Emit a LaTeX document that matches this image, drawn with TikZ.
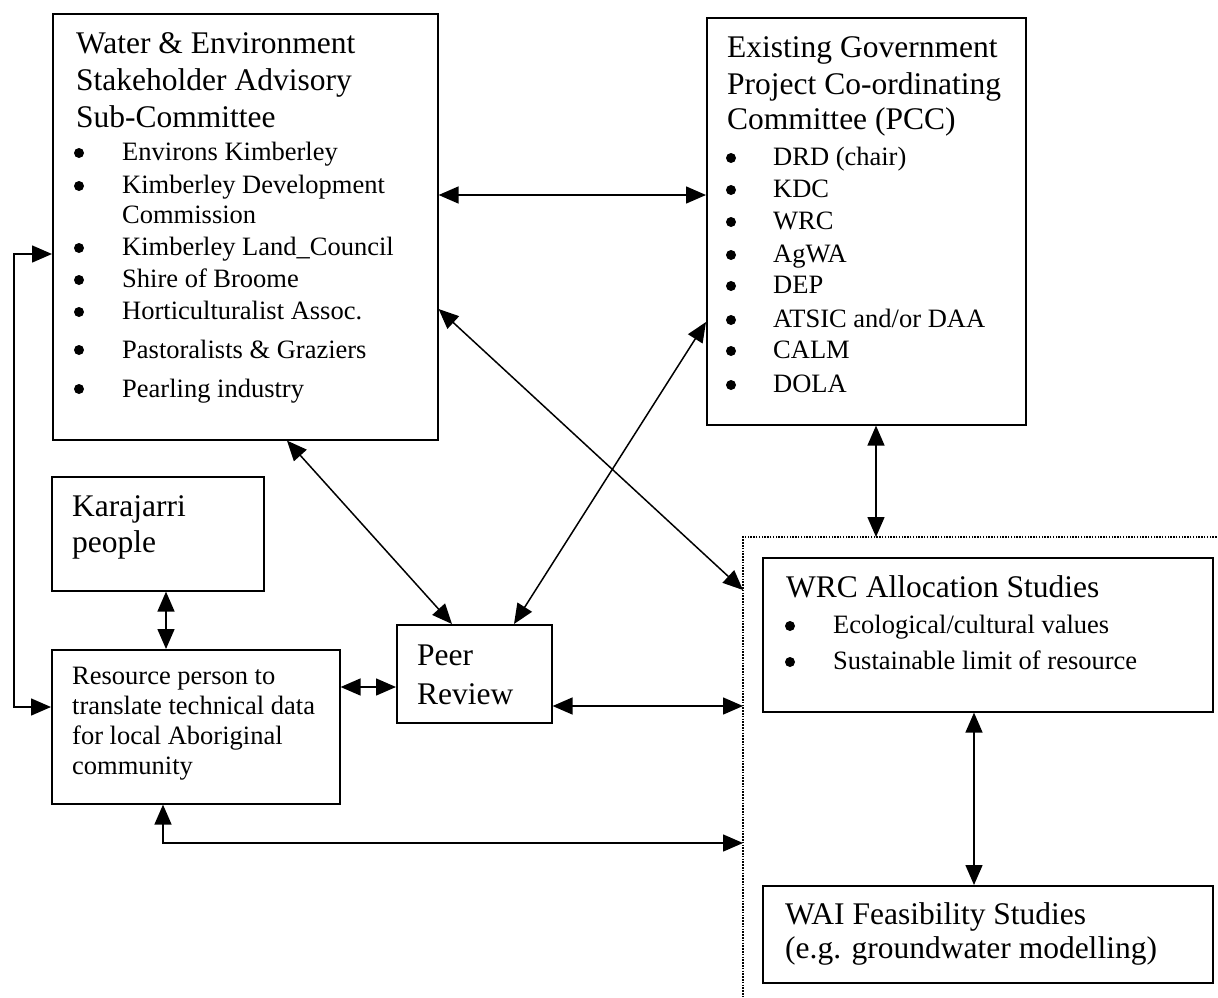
\documentclass[tikz,border=0pt]{standalone}
\usepackage{fontspec}
\setmainfont{Liberation Serif}
\usetikzlibrary{arrows.meta}
\tikzset{
  ttl/.style={font=\fontsize{31.5}{37}\selectfont, anchor=base west, inner sep=0pt},
  itm/.style={font=\fontsize{26.5}{32}\selectfont, anchor=base west, inner sep=0pt},
  box/.style={draw, line width=1.6pt, rectangle, anchor=north west, inner sep=0pt},
  >={Triangle[length=20pt,width=17pt]},
  link/.style={line width=1.5pt, <->},
  dotbound/.style={line width=1.5pt, dash pattern=on 1.5pt off 1.3pt}
}
\newcommand\bul[2]{\fill (#1,#2) circle (5pt);}
\begin{document}
\begin{tikzpicture}[x=1pt,y=-1pt]
\useasboundingbox (0,0) rectangle (1218,998);

% ---------- boxes ----------
\node[box, minimum width=385pt, minimum height=426pt] (wes) at (52,13) {};
\node[box, minimum width=319pt, minimum height=407pt] (pcc) at (706,17) {};
\node[box, minimum width=212pt, minimum height=114pt] (kar) at (51,476) {};
\node[box, minimum width=288pt, minimum height=154pt] (res) at (51,649) {};
\node[box, minimum width=155pt, minimum height=98pt] (pr) at (396,624) {};
\node[box, minimum width=450pt, minimum height=154pt] (wrc) at (762,557) {};
\node[box, minimum width=450pt, minimum height=97pt] (wai) at (762,885) {};

% dotted boundary
\draw[dotbound] (1225,537) -- (743,537) -- (743,1005);
\coordinate (dA) at (743,590);
\coordinate (dB) at (743,706);
\coordinate (dC) at (743,843);
\coordinate (dT) at (876,537);

% ---------- texts: Water & Environment ----------
\node[ttl] (wt1) at (76,54) {Water \& Environment};
\node[ttl] (wt2) at (76,91) {Stakeholder Advisory};
\node[ttl] (wt3) at (76,127) {Sub-Committee};
\bul{79}{153}\node[itm] (wi1) at (122,160) {Environs Kimberley};
\bul{79}{186}\node[itm] (wi2) at (122,193) {Kimberley Development};
\node[itm] (wi2b) at (122,223) {Commission};
\bul{79}{248}\node[itm] (wi3) at (122,255) {Kimberley Land\_Council};
\bul{79}{280}\node[itm] (wi4) at (122,287) {Shire of Broome};
\bul{79}{312}\node[itm] (wi5) at (122,319) {Horticulturalist Assoc.};
\bul{79}{350}\node[itm] (wi6) at (122,358) {Pastoralists \& Graziers};
\bul{79}{389}\node[itm] (wi7) at (122,397) {Pearling industry};

% ---------- texts: PCC ----------
\node[ttl] (pt1) at (727,58) {Existing Government};
\node[ttl] (pt2) at (727,94) {Project Co-ordinating};
\node[ttl] (pt3) at (727,129) {Committee (PCC)};
\bul{731}{158}\node[itm] (pi1) at (773,165) {DRD (chair)};
\bul{731}{190}\node[itm] (pi2) at (773,197) {KDC};
\bul{731}{222}\node[itm] (pi3) at (773,229) {WRC};
\bul{731}{255}\node[itm] (pi4) at (773,262) {AgWA};
\bul{731}{286}\node[itm] (pi5) at (773,293) {DEP};
\bul{731}{320}\node[itm] (pi6) at (773,327) {ATSIC and/or DAA};
\bul{731}{351}\node[itm] (pi7) at (773,358) {CALM};
\bul{731}{385}\node[itm] (pi8) at (773,392) {DOLA};

% ---------- Karajarri ----------
\node[ttl] (kt1) at (72,516) {Karajarri};
\node[ttl] (kt2) at (72,552) {people};

% ---------- Resource person ----------
\node[itm] (rt1) at (72,684) {Resource person to};
\node[itm] (rt2) at (72,714) {translate technical data};
\node[itm] (rt3) at (72,744) {for local Aboriginal};
\node[itm] (rt4) at (72,774) {community};

% ---------- Peer Review ----------
\node[ttl] (prt1) at (417,665) {Peer};
\node[ttl] (prt2) at (417,704) {Review};

% ---------- WRC ----------
\node[ttl] (wrt1) at (786,597) {WRC Allocation Studies};
\bul{790}{626}\node[itm] (wri1) at (833,633) {Ecological/cultural values};
\bul{790}{662}\node[itm] (wri2) at (833,669) {Sustainable limit of resource};

% ---------- WAI ----------
\node[ttl] (wat1) at (785,924) {WAI Feasibility Studies};
\node[ttl] (wat2) at (785,958) {(e.g. groundwater modelling)};

% ---------- connectors ----------
\draw[link] (wes.east |- 0,195) -- (pcc.west |- 0,195);
\coordinate (lp1) at (14,254);
\coordinate (lp2) at (14,707);
\draw[link] (wes.west |- 0,254) -- (lp1) -- (lp2) -- (res.west |- 0,707);
\draw[link] (wes.east |- 0,309) -- (dA);
\draw[link] (pcc.west |- 0,322) -- (pr.north -| 514,0);
\draw[link] (wes.south -| 287,0) -- (pr.north -| 452,0);
\draw[link] (kar.south -| 166,0) -- (res.north -| 166,0);
\draw[link] (res.east |- 0,687) -- (pr.west |- 0,687);
\draw[link] (pr.east |- 0,706) -- (dB);
\coordinate (bc) at (163,843);
\draw[link] (res.south -| 163,0) -- (bc) -- (dC);
\draw[link] (pcc.south -| 876,0) -- (dT);
\draw[link] (wrc.south -| 974,0) -- (wai.north -| 974,0);
\end{tikzpicture}
\end{document}
